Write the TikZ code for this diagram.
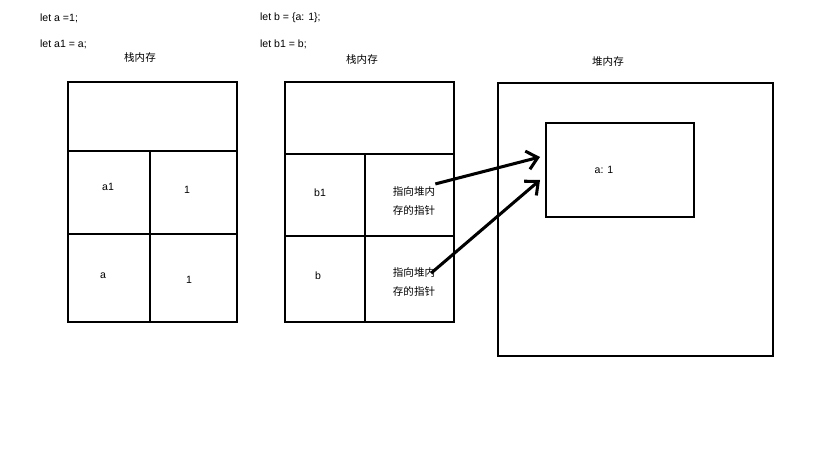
\documentclass[tikz,border=0pt]{standalone}
\usepackage{fontspec}
\setmainfont{Liberation Sans}
\newfontfamily\cjk{Noto Sans CJK SC}
\usetikzlibrary{arrows.meta}
\tikzset{
  cell/.style={line width=2.2pt},
  lbl/.style={font=\small},
  ptr/.style={font=\cjk\small, align=center, inner sep=0pt},
  refarrow/.style={line width=2.6pt, -{Straight Barb[length=9pt,width=16pt]}}
}
\begin{document}
\begin{tikzpicture}[x=0.03cm,y=-0.03cm]
		\useasboundingbox (0,0) rectangle (819,460);
		% code
		\node[lbl,anchor=west] (codea) at (36,18) {let a =1;};
		\node[lbl,anchor=west] (codea1) at (36,44) {let a1 = a;};
		\node[lbl,anchor=west] (codeb) at (256,18) {let b = \{a: 1\};};
		\node[lbl,anchor=west] (codeb1) at (256,44) {let b1 = b;};
		\node[font=\cjk\small] (stack1) at (140,58) {栈内存};
		\node[font=\cjk\small] (stack2) at (362,60) {栈内存};
		\node[font=\cjk\small] (heap) at (608,62) {堆内存};
		
		% left stack
		\draw[cell] (68,82) rectangle (237,322);
		\draw[cell] (68,151) -- (237,151);
		\draw[cell] (68,234) -- (237,234);
		\draw[cell] (150,151) -- (150,322);
		\node[lbl] (a1) at (108,187) {a1};
		\node[lbl] (va1) at (187,190) {1};
		\node[lbl] (a) at (103,276) {a};
		\node[lbl] (va) at (189,280) {1};
		
		% middle stack
		\draw[cell] (285,82) rectangle (454,322);
		\draw[cell] (285,154) -- (454,154);
		\draw[cell] (285,236) -- (454,236);
		\draw[cell] (365,154) -- (365,322);
		\node[lbl] (b1) at (320,193) {b1};
		\node[lbl] (b) at (318,276) {b};
		\node[ptr] (pb1) at (414,201) {指向堆内\\[6pt]存的指针};
		\node[ptr] (pb) at (414,282) {指向堆内\\[6pt]存的指针};
		
		% heap
		\draw[cell] (498,83) rectangle (773,356);
		\draw[cell] (546,123) rectangle (694,217);
		\node[lbl] (obj) at (604,170) {a: 1};
		\coordinate (in1) at (540,157);
		\coordinate (in2) at (540,180);
		
		\draw[refarrow] (pb1.north east) ++(0,-2) -- (in1);
		\draw[refarrow] (pb.north east) ++(-4,6) -- (in2);
	\end{tikzpicture}
\end{document}
